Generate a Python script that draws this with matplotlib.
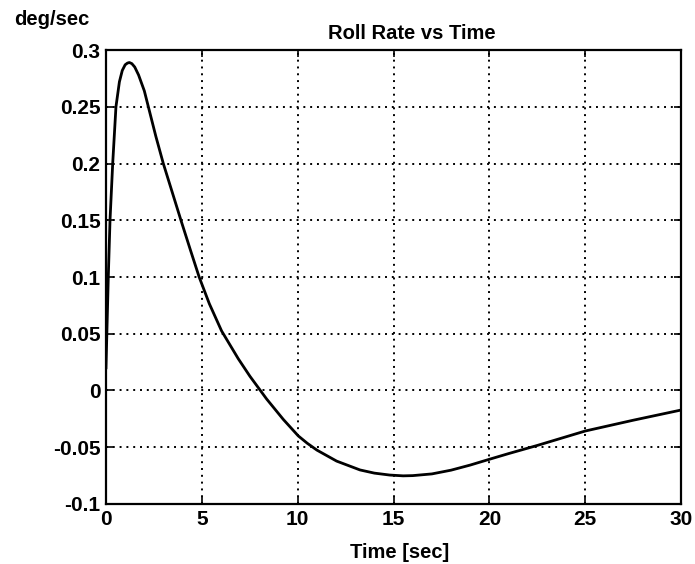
import matplotlib
matplotlib.use("Agg")
import matplotlib.pyplot as plt

# --- data ---
time_s = [0.0, 0.06, 0.12, 0.21, 0.35, 0.52, 0.7, 0.85, 1.0, 1.12, 1.22, 1.35, 1.5,
          1.7, 2.0, 2.21, 2.6, 2.99, 3.45, 3.91, 4.4, 4.86, 5.39, 6.03, 6.9,
          7.51, 8.38, 9.25, 10.03, 10.5, 11.0, 12.03, 13.25, 14.0, 14.8, 15.5, 16.0,
          17.0, 18.0, 19.0, 20.0, 21.0, 22.5, 25.0, 27.5, 30.0]
roll_rate = [0.02, 0.06, 0.1, 0.15, 0.2, 0.25, 0.272, 0.282, 0.287, 0.2885, 0.289, 0.288, 0.285,
             0.278, 0.264, 0.25, 0.224, 0.2, 0.175, 0.15, 0.124, 0.1, 0.0765, 0.0525, 0.028,
             0.0125, -0.0075, -0.0255, -0.040, -0.0465, -0.0525, -0.0622, -0.070, -0.0728, -0.0745, -0.0752, -0.075,
             -0.0735, -0.0702, -0.0657, -0.0606, -0.0556, -0.0484, -0.0357, -0.0262, -0.0172]

x_ticks = [0, 5, 10, 15, 20, 25, 30]
y_ticks = [-0.1, -0.05, 0, 0.05, 0.1, 0.15, 0.2, 0.25, 0.3]
y_tick_labels = ["-0.1", "-0.05", "0", "0.05", "0.1", "0.15", "0.2", "0.25", "0.3"]

plt.rcParams['font.family'] = ['Liberation Sans', 'DejaVu Sans']
plt.rcParams['font.weight'] = 'bold'

fig = plt.figure(figsize=(6.95, 5.64), dpi=100)
ax = fig.add_axes([0.1525, 0.1064, 0.8275, 0.8049])

ax.plot(time_s, roll_rate, color='black', linewidth=2.0)

ax.set_xlim(0, 30)
ax.set_ylim(-0.1, 0.3)
ax.set_xticks(x_ticks)
ax.set_yticks(y_ticks)
ax.set_yticklabels(y_tick_labels)
ax.tick_params(direction='in', length=5, width=1.2, labelsize=15, pad=4,
               top=True, right=True)
ax.grid(True, color='black', linestyle=(0, (1, 2.5)), linewidth=1.4)
for s in ax.spines.values():
    s.set_linewidth(1.6)

ax.set_title('Roll Rate vs Time', fontsize=14.5, fontweight='bold', x=0.532, pad=8)
ax.set_xlabel('Time [sec]', fontsize=14.5, fontweight='bold')
ax.xaxis.set_label_coords(0.511, -0.085)
fig.text(0.02, 0.965, 'deg/sec', fontsize=14.5, fontweight='bold', va='center')

fig.savefig('out.png', dpi=100)
